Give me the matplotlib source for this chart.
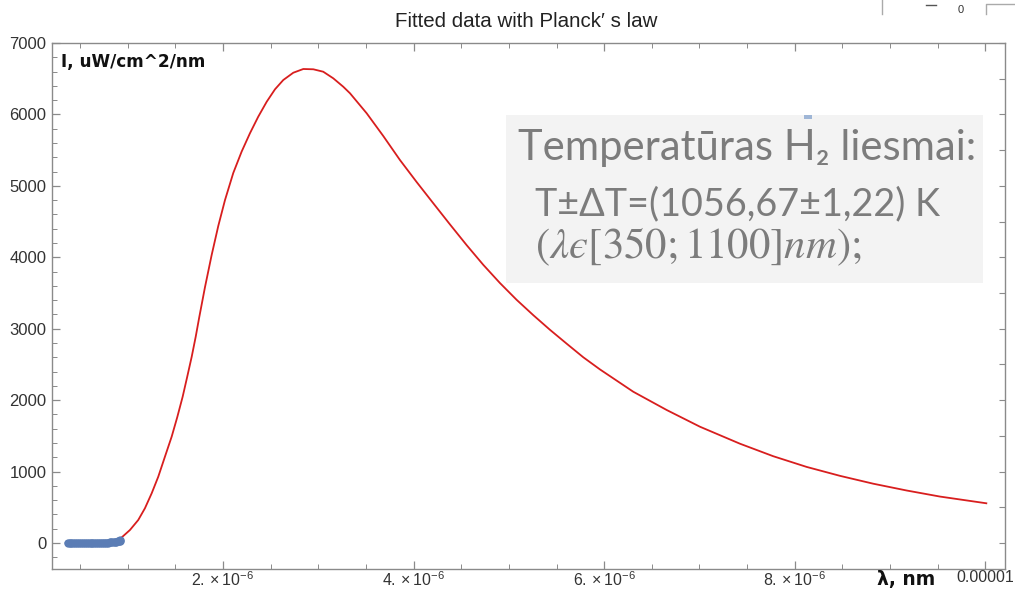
import matplotlib
matplotlib.use("Agg")
import matplotlib.pyplot as plt
from matplotlib.ticker import MultipleLocator, FixedLocator, NullFormatter
from matplotlib.patches import Rectangle
from matplotlib.lines import Line2D

plt.rcParams["font.family"] = ["Liberation Sans", "DejaVu Sans"]
plt.rcParams["mathtext.fontset"] = "custom"
plt.rcParams["mathtext.rm"] = "Liberation Sans"
plt.rcParams["mathtext.it"] = "Liberation Sans:italic"
plt.rcParams["mathtext.bf"] = "Liberation Sans:bold"

# ---------------- data ----------------
measured_wavelength_nm = [370, 390, 410, 430, 450, 470, 490, 510, 530, 550, 570, 590,
                          610, 630, 650, 670, 690, 710, 730, 750, 770, 790, 810, 830,
                          850, 865, 880, 895, 905, 915, 920]
measured_intensity = [0, 0, 0, 0, 0, 0, 0, 0, 0, 0, 0, 0,
                      0, 1, 1, 1, 2, 2, 3, 4, 5, 6, 8, 10,
                      13, 16, 20, 24, 28, 32, 36]

fit_wavelength_um = [0.927, 1.024, 1.111, 1.181, 1.252, 1.321, 1.391, 1.462, 1.520,
                     1.577, 1.625, 1.672, 1.714, 1.751, 1.811, 1.881, 1.951, 2.021,
                     2.108, 2.196, 2.283, 2.370, 2.459, 2.546, 2.633, 2.738, 2.843,
                     2.948, 3.052, 3.157, 3.262, 3.333, 3.508, 3.682, 3.857, 4.032,
                     4.207, 4.382, 4.557, 4.731, 4.906, 5.081, 5.256, 5.431, 5.607,
                     5.781, 5.956, 6.305, 6.656, 7.005, 7.425, 7.774, 8.125, 8.475,
                     8.824, 9.174, 9.524, 10.01]
fit_intensity = [66, 182, 322, 486, 696, 928, 1208, 1490, 1760,
                 2048, 2328, 2608, 2888, 3160, 3580, 4030, 4440, 4800,
                 5180, 5480, 5736, 5968, 6178, 6352, 6482, 6584, 6636,
                 6632, 6598, 6506, 6388, 6296, 6016, 5698, 5362, 5054,
                 4756, 4460, 4170, 3895, 3640, 3405, 3190, 2985, 2790,
                 2600, 2430, 2118, 1862, 1628, 1390, 1215, 1065, 940,
                 830, 735, 650, 556]

y_tick_values = [0, 1000, 2000, 3000, 4000, 5000, 6000, 7000]
x_tick_values = [2e-6, 4e-6, 6e-6, 8e-6, 1e-5]
x_tick_labels = [r"$2.\times10^{-6}$", r"$4.\times10^{-6}$", r"$6.\times10^{-6}$",
                 r"$8.\times10^{-6}$", "0.00001"]
right_tick_values = [0, 500, 1000, 1500, 2000, 2500, 3000, 3500, 4000, 4500,
                     5000, 5500, 6000, 6500, 7000]

title_text = "Fitted data with Planck\u2032 s law"
y_label = "I, uW/cm^2/nm"
x_label = "\u03bb, nm"
box_line1 = "Temperat\u016bras H\u2082 liesmai:"
box_line2 = "T\u00b1\u0394T=(1056,67\u00b11,22) K"
box_line3 = "$(\\lambda\u03f5[350;1100]nm);$"

# ---------------- figure ----------------
W, H = 1015, 591
fig = plt.figure(figsize=(W / 100, H / 100), dpi=100)
fig.patch.set_facecolor("white")


def fx(px):
    return px / W


def fy(py):
    return 1 - py / H


ax = fig.add_axes([fx(52), fy(569), (1005 - 52) / W, (569 - 43) / H])
ax.set_xlim(0.206e-6, 10.206e-6)
ax.set_ylim(-364, 7000)

frame_col = "#8a8a8a"
for s in ax.spines.values():
    s.set_color(frame_col)
    s.set_linewidth(1.0)

ax.xaxis.set_major_locator(FixedLocator(x_tick_values))
ax.set_xticklabels(x_tick_labels)
ax.xaxis.set_minor_locator(MultipleLocator(0.5e-6))
ax.yaxis.set_major_locator(FixedLocator(y_tick_values))
ax.set_yticklabels([str(v) for v in y_tick_values])
ax.yaxis.set_minor_locator(MultipleLocator(200))

ax.tick_params(which="both", direction="in", top=True, right=False,
               color=frame_col, labelcolor="#333333", labelsize=12)
ax.tick_params(which="major", length=6, width=0.9)
ax.tick_params(which="minor", length=3.5, width=0.7)
ax.tick_params(axis="x", which="major", pad=1, labelsize=11.5)
ax.tick_params(axis="y", which="major", pad=4)

# right-frame ticks
axr = ax.twinx()
axr.set_ylim(ax.get_ylim())
axr.yaxis.set_major_locator(FixedLocator(right_tick_values))
axr.yaxis.set_major_formatter(NullFormatter())
axr.tick_params(direction="in", length=4.5, width=0.8, color=frame_col)
for s in axr.spines.values():
    s.set_visible(False)

# text box background
box = Rectangle((fx(506), fy(283)), (983 - 506) / W, (283 - 115) / H,
                transform=fig.transFigure, facecolor="#f3f3f3", edgecolor="none",
                zorder=0)
fig.patches.append(box)
ax.set_facecolor("none")

# data
lam_meas = [v * 1e-9 for v in measured_wavelength_nm]
lam_fit = [v * 1e-6 for v in fit_wavelength_um]
ax.plot(lam_fit, fit_intensity, color="#d81e1e", lw=1.3, zorder=3,
        solid_joinstyle="round")
ax.plot(lam_meas, measured_intensity, color="#5b7db5", lw=4.5, marker="o",
        ms=5, mec="#5b7db5", mfc="#5b7db5", zorder=4, solid_capstyle="round")

# texts
t_title = fig.text(fx(526), fy(27), title_text, ha="center", va="baseline",
                   fontsize=12, color="#222222")
t_ylab = fig.text(fx(61), fy(67), y_label, ha="left", va="baseline",
                  fontsize=10, fontweight="bold", color="#111111",
                  family=["DejaVu Sans"])
t_xlab = fig.text(fx(877), fy(585), x_label, ha="left", va="baseline",
                  fontsize=11, fontweight="bold", color="#111111",
                  family=["DejaVu Sans"])

gray = "#7c7c7c"
t1 = fig.text(fx(518), fy(160), box_line1, ha="left", va="baseline",
              fontsize=28, color=gray, family=["Lato", "DejaVu Sans"])
t2 = fig.text(fx(535), fy(215), box_line2, ha="left", va="baseline",
              fontsize=26, color=gray, family=["Lato", "DejaVu Sans"])
t3 = fig.text(fx(535), fy(258), box_line3, ha="left", va="baseline",
              fontsize=26, color=gray, math_fontfamily="stix")

# small artefacts
fig.patches.append(Rectangle((fx(804), fy(119)), 8 / W, 4 / H,
                             transform=fig.transFigure, facecolor="#9fb6d6",
                             edgecolor="none"))
fig.lines.append(Line2D([fx(882), fx(882)], [fy(0), fy(14)],
                        transform=fig.transFigure, color="#aaaaaa", lw=1))
fig.lines.append(Line2D([fx(926), fx(936)], [fy(5), fy(5)],
                        transform=fig.transFigure, color="#555555", lw=1))
fig.text(fx(961), fy(13), "0", ha="center", va="baseline", fontsize=8,
         color="#333333")
fig.lines.append(Line2D([fx(986), fx(986), fx(1015)], [fy(14), fy(4), fy(4)],
                        transform=fig.transFigure, color="#aaaaaa", lw=1))

# fit widths of texts to the reference
fig.canvas.draw()
r = fig.canvas.get_renderer()
for t, target in [(t_title, 264), (t_ylab, 144), (t_xlab, 58), (t1, 457),
                  (t2, 405), (t3, 327)]:
    w = t.get_window_extent(r).width
    t.set_fontsize(t.get_fontsize() * target / w)

fig.savefig("out.png", dpi=100)
